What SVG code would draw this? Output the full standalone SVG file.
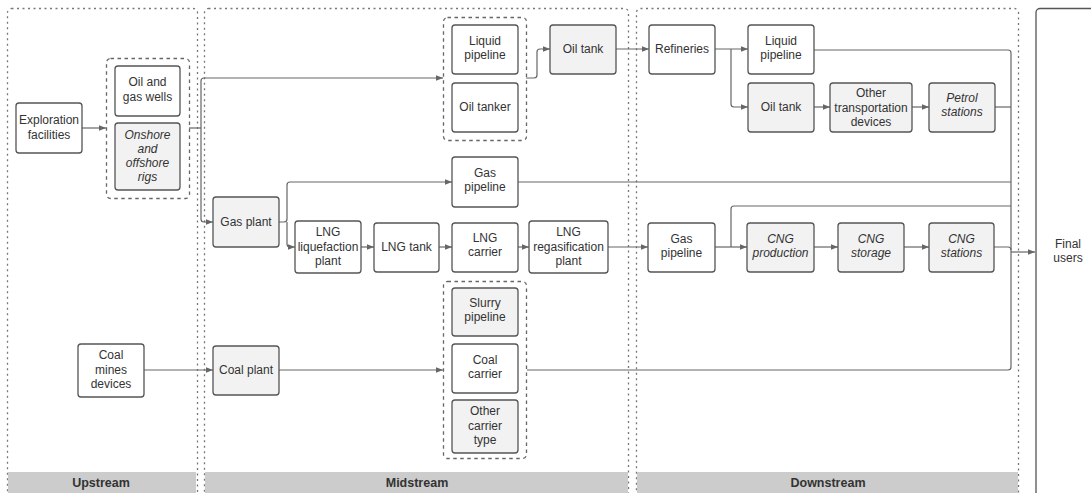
<svg xmlns="http://www.w3.org/2000/svg" width="1091" height="493" viewBox="0 0 1091 493">
<defs>
<marker id="ah" viewBox="0 0 10 10" refX="10" refY="5" markerWidth="9" markerHeight="7" markerUnits="userSpaceOnUse" orient="auto">
<path d="M0,1 L10,5 L0,9 z" fill="#666"/>
</marker>
</defs>
<style>
text{font-family:"Liberation Sans",Arial,sans-serif;font-size:12px;fill:#333;text-anchor:middle}
.it{font-style:italic}
.lbl{font-weight:bold;font-size:12.5px}
.panel{fill:none;stroke:#777;stroke-width:1.3;stroke-dasharray:2 3.5}
.grp{fill:none;stroke:#666;stroke-width:1.3;stroke-dasharray:3.5 3.5}
.n{fill:#fff;stroke:#555;stroke-width:1.3}
.g{fill:#f2f2f2;stroke:#555;stroke-width:1.3}
.band{fill:#cccccc}
.c{fill:none;stroke:#666;stroke-width:1.2}
.a{marker-end:url(#ah)}
</style>
<rect width="1091" height="493" fill="#fff"/>
<g id="panels">
<rect class="panel" x="7.5" y="8.5" width="190" height="510" rx="4"/>
<rect class="panel" x="204.5" y="8.5" width="424" height="510" rx="4"/>
<rect class="panel" x="636.5" y="8.5" width="382" height="510" rx="4"/>
<rect x="1036" y="8.5" width="90" height="510" rx="4" fill="#fff" stroke="#555" stroke-width="1.3"/>
<rect class="band" x="8" y="472" width="188" height="21"/>
<rect class="band" x="205" y="472" width="423" height="21"/>
<rect class="band" x="637" y="472" width="381" height="21"/>
<text class="lbl" x="101" y="487">Upstream</text>
<text class="lbl" x="417" y="487">Midstream</text>
<text class="lbl" x="828" y="487">Downstream</text>
</g>
<g id="groups">
<rect class="grp" x="106.5" y="58.5" width="83" height="140" rx="4"/>
<rect class="grp" x="443.5" y="17.5" width="83" height="123" rx="4"/>
<rect class="grp" x="443.5" y="281.5" width="83" height="177" rx="4"/>
</g>
<g id="connectors">
<path class="c a" d="M82,128 H106"/>
<path class="c" d="M189,128 H201"/>
<path class="c a" d="M201,128 V81 Q201,78 204,78 H443"/>
<path class="c a" d="M201,128 V219 Q201,222 204,222 H213"/>
<path class="c a" d="M144,370 H213"/>
<path class="c a" d="M279,222 H284 Q287,222 287,219 V185 Q287,182 290,182 H452"/>
<path class="c a" d="M287,222 V244 Q287,247 290,247 H295"/>
<path class="c a" d="M361,247 H374"/>
<path class="c a" d="M439,247 H452"/>
<path class="c a" d="M518,247 H529"/>
<path class="c a" d="M608,247 H648"/>
<path class="c a" d="M279,370 H443"/>
<path class="c a" d="M526,78 H534 Q537,78 537,75 V52 Q537,49 540,49 H550"/>
<path class="c a" d="M616,49 H649"/>
<path class="c a" d="M715,49 H748"/>
<path class="c a" d="M731,49 V104 Q731,107 734,107 H748"/>
<path class="c a" d="M814,107 H830"/>
<path class="c a" d="M912,107 H929"/>
<path class="c a" d="M715,247 H747"/>
<path class="c" d="M731,247 V209 Q731,206 734,206 H1011"/>
<path class="c a" d="M814,247 H838"/>
<path class="c a" d="M904,247 H929"/>
<path class="c" d="M814,50 H1008 Q1011,50 1011,53 V367 Q1011,370 1008,370 H527"/>
<path class="c" d="M995,107 H1011"/>
<path class="c" d="M518,182 H1011"/>
<path class="c" d="M994,247 H1008 Q1011,247 1011,250"/>
<path class="c a" d="M1011,252 H1035"/>
</g>
<g id="exploration"><rect class="n" x="16" y="103" width="66" height="50" rx="3"/><text x="49" y="124">Exploration</text><text x="49" y="139">facilities</text></g>
<g id="wells"><rect class="n" x="115" y="66" width="65" height="50" rx="3"/><text x="147.5" y="86">Oil and</text><text x="147.5" y="101">gas wells</text></g>
<g id="rigs"><rect class="g" x="115" y="123" width="65" height="67" rx="3"/><text class="it" x="147.5" y="139">Onshore</text><text class="it" x="147.5" y="153">and</text><text class="it" x="147.5" y="167">offshore</text><text class="it" x="147.5" y="181">rigs</text></g>
<g id="coalmines"><rect class="n" x="78" y="344" width="66" height="53" rx="3"/><text x="111" y="359">Coal</text><text x="111" y="373.5">mines</text><text x="111" y="388">devices</text></g>
<g id="gasplant"><rect class="g" x="213" y="197" width="66" height="50" rx="3"/><text x="246" y="226">Gas plant</text></g>
<g id="coalplant"><rect class="g" x="213" y="346" width="66" height="49" rx="3"/><text x="246" y="374">Coal plant</text></g>
<g id="lngliq"><rect class="n" x="295" y="221" width="66" height="52" rx="3"/><text x="328" y="236">LNG</text><text x="328" y="251">liquefaction</text><text x="328" y="265">plant</text></g>
<g id="lngtank"><rect class="n" x="374" y="223" width="65" height="49" rx="3"/><text x="406.5" y="251">LNG tank</text></g>
<g id="liqpipe1"><rect class="n" x="452" y="25" width="66" height="49" rx="3"/><text x="485" y="45">Liquid</text><text x="485" y="59">pipeline</text></g>
<g id="oiltanker"><rect class="n" x="452" y="83" width="66" height="49" rx="3"/><text x="485" y="111">Oil tanker</text></g>
<g id="gaspipe1"><rect class="n" x="452" y="157" width="66" height="50" rx="3"/><text x="485" y="177">Gas</text><text x="485" y="191">pipeline</text></g>
<g id="lngcarrier"><rect class="n" x="452" y="223" width="66" height="49" rx="3"/><text x="485" y="242">LNG</text><text x="485" y="256">carrier</text></g>
<g id="slurry"><rect class="g" x="452" y="288" width="66" height="48" rx="3"/><text x="485" y="307">Slurry</text><text x="485" y="321">pipeline</text></g>
<g id="coalcarrier"><rect class="n" x="452" y="344" width="66" height="49" rx="3"/><text x="485" y="364">Coal</text><text x="485" y="378">carrier</text></g>
<g id="othercarrier"><rect class="g" x="452" y="400" width="66" height="53" rx="3"/><text x="485" y="415">Other</text><text x="485" y="429.5">carrier</text><text x="485" y="444">type</text></g>
<g id="oiltank1"><rect class="g" x="550" y="25" width="66" height="49" rx="3"/><text x="583" y="53">Oil tank</text></g>
<g id="regas"><rect class="n" x="529" y="221" width="79" height="52" rx="3"/><text x="568.5" y="236">LNG</text><text x="568.5" y="251">regasification</text><text x="568.5" y="265">plant</text></g>
<g id="refineries"><rect class="n" x="649" y="25" width="66" height="49" rx="3"/><text x="682" y="53">Refineries</text></g>
<g id="liqpipe2"><rect class="n" x="748" y="25" width="66" height="49" rx="3"/><text x="781" y="45">Liquid</text><text x="781" y="59">pipeline</text></g>
<g id="oiltank2"><rect class="g" x="748" y="83" width="66" height="49" rx="3"/><text x="781" y="111">Oil tank</text></g>
<g id="othertransport"><rect class="g" x="830" y="83" width="82" height="49" rx="3"/><text x="871" y="97">Other</text><text x="871" y="111.5">transportation</text><text x="871" y="126">devices</text></g>
<g id="petrol"><rect class="g" x="929" y="83" width="66" height="49" rx="3"/><text class="it" x="962" y="102">Petrol</text><text class="it" x="962" y="116">stations</text></g>
<g id="gaspipe2"><rect class="n" x="648" y="223" width="67" height="49" rx="3"/><text x="681.5" y="243">Gas</text><text x="681.5" y="257">pipeline</text></g>
<g id="cngprod"><rect class="g" x="747" y="223" width="67" height="49" rx="3"/><text class="it" x="780.5" y="243">CNG</text><text class="it" x="780.5" y="257">production</text></g>
<g id="cngstorage"><rect class="g" x="838" y="223" width="66" height="49" rx="3"/><text class="it" x="871" y="243">CNG</text><text class="it" x="871" y="257">storage</text></g>
<g id="cngstations"><rect class="g" x="929" y="223" width="65" height="49" rx="3"/><text class="it" x="961.5" y="243">CNG</text><text class="it" x="961.5" y="257">stations</text></g>
<g id="finalusers"><text x="1068" y="248">Final</text><text x="1068" y="262">users</text></g>
</svg>
